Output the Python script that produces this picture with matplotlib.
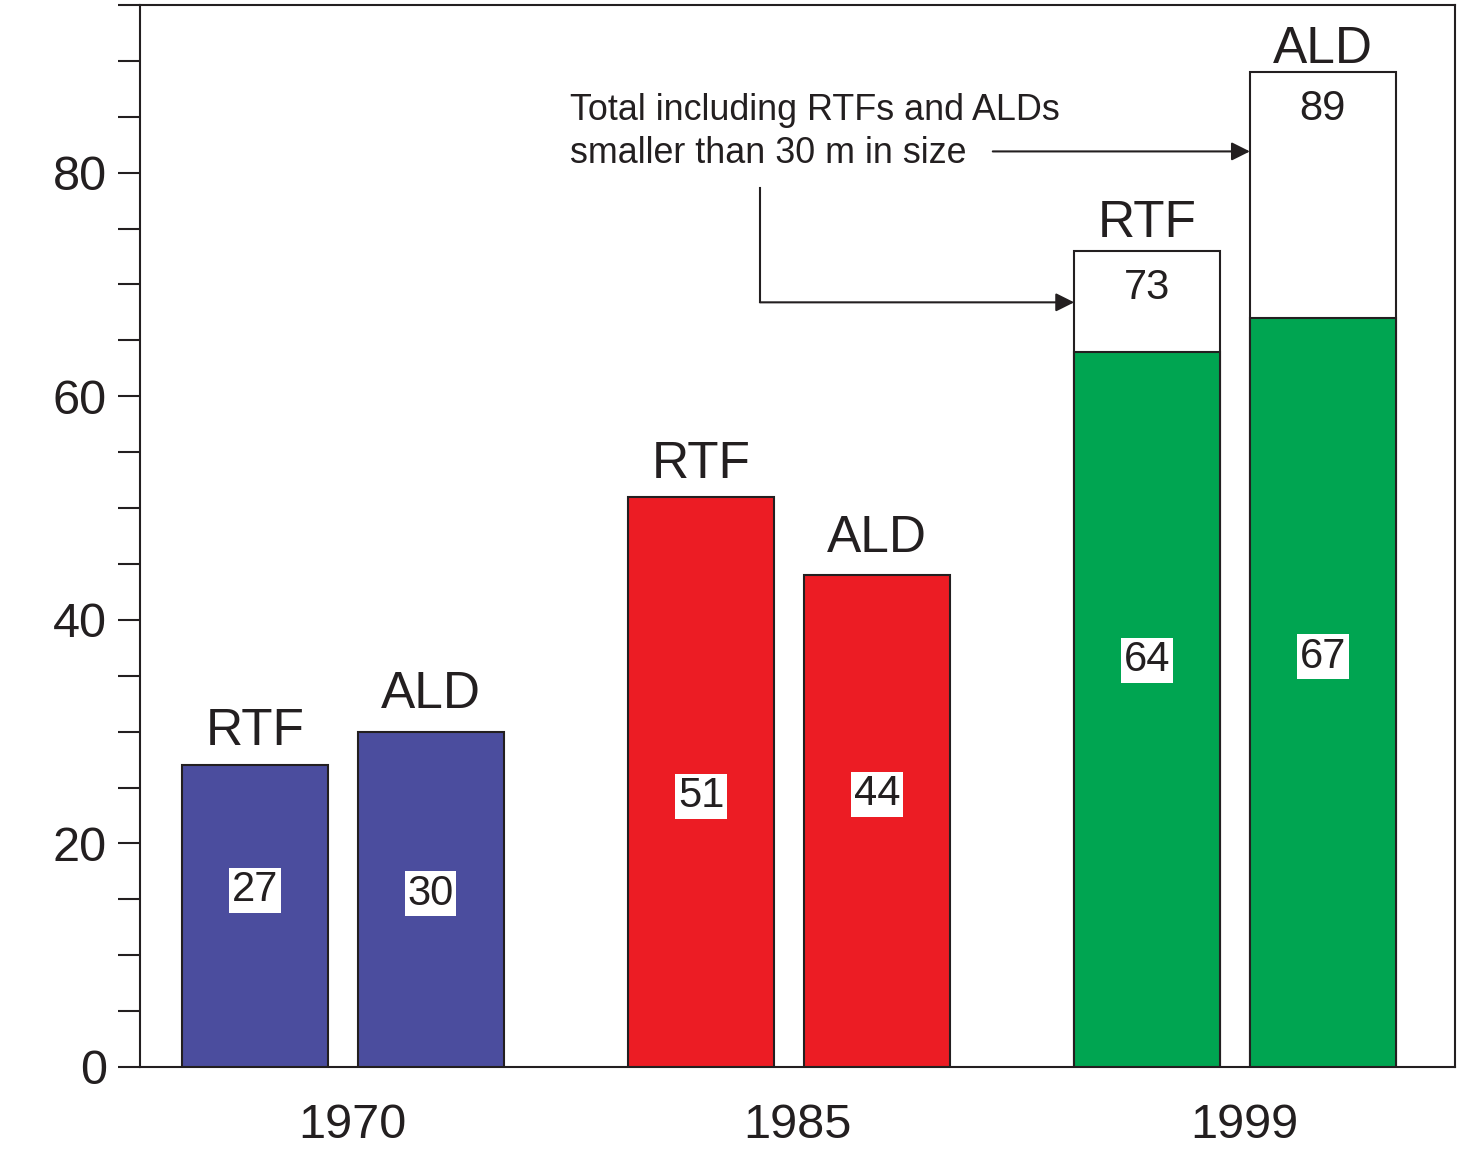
import matplotlib as mpl
mpl.use('Agg')
import matplotlib.pyplot as plt

plt.rcParams['font.family'] = ['Liberation Sans', 'DejaVu Sans']

# counts per survey year, for RTF and ALD
years = ['1970', '1985', '1999']
rtf_counts = [27, 51, 64]
ald_counts = [30, 44, 67]
# totals including features smaller than 30 m (only surveyed in 1999)
rtf_totals = [None, None, 73]
ald_totals = [None, None, 89]

year_colors = ['#4b4d9e', '#ec1c24', '#00a551']
edge = '#231f20'

# where the in-bar numbers sit (data units)
rtf_label_y = [15.8, 24.2, 36.4]
ald_label_y = [15.5, 24.4, 36.7]
# gap between bar top and the RTF / ALD name above it
rtf_name_gap = [1.8, 1.7, 1.25]
ald_name_gap = [2.1, 2.1, 0.8]

width = 0.327
offset = 0.197

fig = plt.figure(figsize=(14.74, 11.56), dpi=100)
ax = fig.add_axes([0.095, 0.077, 0.892, 0.9187])


def draw_bar(x, value, total, color, label_y, name, gap):
    top = value
    if total is not None:
        ax.bar(x, total, width=width, color='white', edgecolor=edge,
               linewidth=1.5, zorder=2)
        ax.text(x, total - 3.3, str(total), ha='center', va='center',
                fontsize=30, color=edge, zorder=4)
        top = total
    ax.bar(x, value, width=width, color=color, edgecolor=edge,
           linewidth=1.5, zorder=3)
    ax.text(x, label_y, str(value), ha='center', va='center', fontsize=30,
            color=edge, zorder=4,
            bbox=dict(boxstyle='square,pad=0.06', facecolor='white',
                      edgecolor='none'))
    ax.text(x, top + gap, name, ha='center', va='baseline', fontsize=37,
            color=edge, zorder=4)


for i in range(len(years)):
    draw_bar(i - offset, rtf_counts[i], rtf_totals[i], year_colors[i],
             rtf_label_y[i], 'RTF', rtf_name_gap[i])
    draw_bar(i + offset, ald_counts[i], ald_totals[i], year_colors[i],
             ald_label_y[i], 'ALD', ald_name_gap[i])

# note with arrows pointing at the 1999 totals
ax.text(0.509, 83.6, 'Total including RTFs and ALDs\nsmaller than 30 m in size',
        ha='left', va='center', fontsize=25.8, color=edge, linespacing=1.3)
arrow = dict(arrowstyle='-|>', color=edge, lw=1.5, mutation_scale=28,
             shrinkA=0, shrinkB=0)
ax.annotate('', xy=(2 + offset - width / 2, 81.9), xytext=(1.457, 81.9),
            arrowprops=arrow)
ax.plot([0.935, 0.935], [78.6, 68.4], color=edge, lw=1.5)
ax.annotate('', xy=(2 - offset - width / 2, 68.4), xytext=(0.935, 68.4),
            arrowprops=arrow)

ax.set_xlim(-0.455, 2.493)
ax.set_ylim(0, 95)

yt = list(range(0, 96, 5))
ax.set_yticks(yt)
ax.set_yticklabels([str(v) if v % 20 == 0 and v <= 80 else '' for v in yt])
ax.set_xticks([g + 0.02 for g in range(len(years))])
ax.set_xticklabels(years)
ax.tick_params(axis='y', direction='out', length=16, width=1.5, color=edge,
               labelsize=35, pad=8, labelcolor=edge)
ax.tick_params(axis='x', length=0, labelsize=35, pad=26, labelcolor=edge)

for s in ax.spines.values():
    s.set_linewidth(1.5)
    s.set_color(edge)

fig.savefig('out.png', dpi=100)
